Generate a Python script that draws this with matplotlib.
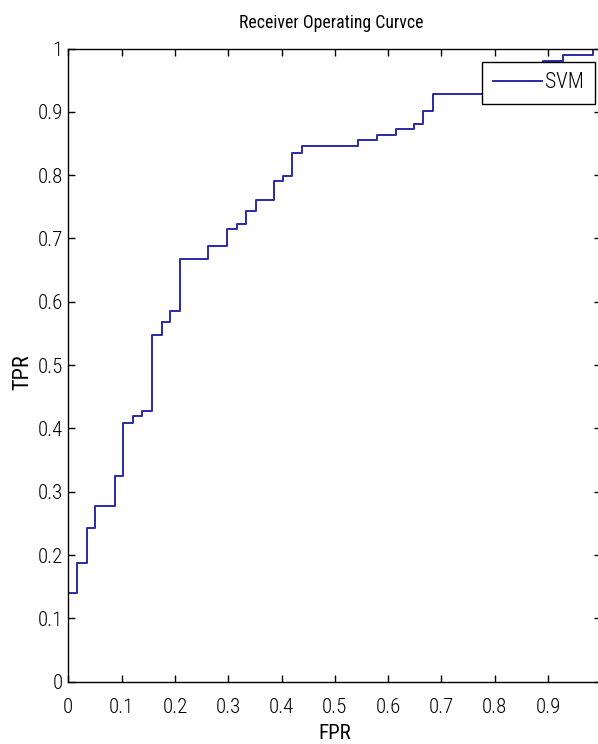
import matplotlib
matplotlib.use("Agg")
import matplotlib.pyplot as plt

# ROC curve vertices (steps-post)
fpr = [0.0, 0.0, 0.016, 0.035, 0.050, 0.088, 0.103, 0.122, 0.139, 0.157, 0.175,
       0.191, 0.210, 0.263, 0.297, 0.316, 0.333, 0.352, 0.386, 0.403, 0.420,
       0.439, 0.544, 0.580, 0.614, 0.649, 0.666, 0.684, 0.890, 0.929, 0.984, 1.0]
tpr = [0.0, 0.140, 0.187, 0.242, 0.277, 0.325, 0.409, 0.419, 0.428, 0.548, 0.568,
       0.586, 0.667, 0.688, 0.715, 0.723, 0.744, 0.761, 0.791, 0.799, 0.835,
       0.846, 0.855, 0.864, 0.873, 0.881, 0.902, 0.928, 0.980, 0.990, 1.000, 1.0]
ticks = [i / 10 for i in range(11)]
y_tick_labels = ["0", "0.1", "0.2", "0.3", "0.4", "0.5", "0.6", "0.7", "0.8", "0.9", "1"]
x_tick_labels = ["0", "0.1", "0.2", "0.3", "0.4", "0.5", "0.6", "0.7", "0.8", "0.9", ""]

plt.rcParams["font.family"] = ["Roboto Condensed", "DejaVu Sans"]
plt.rcParams["font.weight"] = "light"

W, H = 598, 744
fig = plt.figure(figsize=(W / 100, H / 100), dpi=100)
left, right, top, bottom = 68.3, 601.3, 48.5, 681.7
aw, ah = right - left, bottom - top
ax = fig.add_axes([left / W, 1 - bottom / H, aw / W, ah / H])

ax.plot(fpr, tpr, drawstyle="steps-post", color="#2a2aa8", lw=1.4, label="SVM")
ax.set_xlim(0, 1)
ax.set_ylim(0, 1)
ax.set_xticks(ticks)
ax.set_xticklabels(x_tick_labels)
ax.set_yticks(ticks)
ax.set_yticklabels(y_tick_labels)
ax.tick_params(direction="in", length=5, width=1, top=True, right=True,
               labelsize=15, colors="black")
ax.tick_params(axis="x", pad=11.5)
ax.tick_params(axis="y", pad=4)
for s in ax.spines.values():
    s.set_linewidth(1.0)
    s.set_color("black")

ax.set_title("Receiver Operating Curvce", fontsize=12.8, pad=15, x=(331.7 - left) / aw)

ax.set_xlabel("FPR", fontsize=15)
ax.xaxis.label.set_va("baseline")
ax.xaxis.set_label_coords(0.5, (bottom - 739.0) / ah)

ax.set_ylabel("TPR", fontsize=16)
ax.yaxis.label.set_va("baseline")
ax.yaxis.set_label_coords((28.3 - left) / aw, (bottom - 372.5) / ah)

leg = ax.legend(loc="upper right",
                bbox_to_anchor=((595 - left) / aw, (bottom - 61.7) / ah),
                borderaxespad=0, fancybox=False, framealpha=1, edgecolor="black",
                fontsize=15.5, handlelength=2.3, handletextpad=0.15, borderpad=0.5)
leg.get_frame().set_linewidth(1.0)

fig.savefig("out.png", dpi=100)
